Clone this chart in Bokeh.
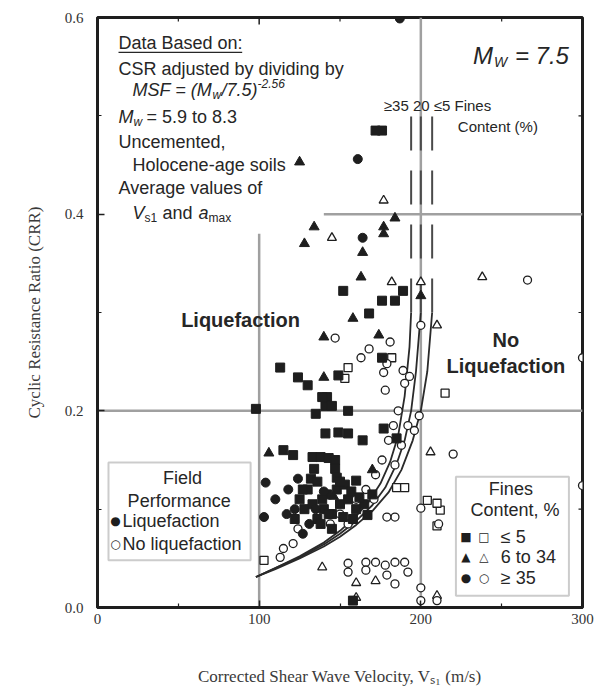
import math
from bokeh.plotting import figure
from bokeh.models import (ColumnDataSource, Label, BoxAnnotation,
                          FixedTicker, Range1d, PrintfTickFormatter)
from bokeh.embed import file_html
from bokeh.resources import INLINE

# ---------------- data ----------------
x_ticks = [0, 100, 200, 300]
x_minor = [50, 150, 250]
y_ticks = [0.0, 0.2, 0.4, 0.6]
y_minor = [0.1, 0.3, 0.5]

# Liquefaction, fines <= 5 % (filled squares)
liq_fc5_x = [172, 176, 98, 152, 189, 176, 184, 168, 176, 113, 124, 130, 149, 142, 135, 141, 145, 155,
             139, 141, 149, 155, 164, 177, 185, 115, 121, 133, 138, 143, 147, 134, 132, 147, 148, 160,
             167, 158, 125, 130, 136, 140, 145, 150, 155, 160, 142, 148, 153, 138, 145, 158, 165, 170, 128,
             122, 127, 133, 139, 152, 157, 162, 136, 143, 150]
liq_fc5_y = [0.485, 0.485, 0.202, 0.322, 0.322, 0.312, 0.312, 0.299, 0.254, 0.244, 0.234, 0.226, 0.236,
             0.214, 0.197, 0.205, 0.205, 0.200, 0.214, 0.177, 0.178, 0.177, 0.170, 0.182, 0.172, 0.160,
             0.155, 0.153, 0.153, 0.152, 0.150, 0.141, 0.131, 0.141, 0.132, 0.129, 0.094, 0.007, 0.110,
             0.120, 0.090, 0.100, 0.095, 0.105, 0.110, 0.100, 0.115, 0.120, 0.125, 0.085, 0.080, 0.090,
             0.105, 0.115, 0.100, 0.090, 0.120, 0.105, 0.110, 0.092, 0.118, 0.112, 0.128, 0.095, 0.128]

# Liquefaction, fines 6 to 34 % (filled triangles)
liq_fc20_x = [125, 184, 177, 177, 134, 128, 164, 163, 200, 158, 174, 140, 140, 106, 146, 170]
liq_fc20_y = [0.453, 0.396, 0.387, 0.380, 0.387, 0.370, 0.361, 0.336, 0.317, 0.294, 0.277, 0.275,
              0.234, 0.157, 0.113, 0.140]

# Liquefaction, fines >= 35 % (filled circles)
liq_fc35_x = [187, 161, 164, 104, 124, 103, 110, 117, 122, 135, 127, 118, 131, 140]
liq_fc35_y = [0.599, 0.456, 0.376, 0.127, 0.131, 0.092, 0.110, 0.095, 0.100, 0.100, 0.075, 0.120,
              0.085, 0.118]

# No liquefaction, fines <= 5 % (open squares)
noliq_fc5_x = [215, 185, 190, 103, 212, 210, 204, 210, 155, 153, 182]
noliq_fc5_y = [0.218, 0.122, 0.122, 0.048, 0.099, 0.083, 0.109, 0.106, 0.244, 0.233, 0.254]

# No liquefaction, fines 6 to 34 % (open triangles)
noliq_fc20_x = [177, 145, 182, 200, 210, 238, 206, 139, 172, 160, 160, 210]
noliq_fc20_y = [0.414, 0.376, 0.331, 0.331, 0.287, 0.336, 0.158, 0.041, 0.027, 0.025, 0.010, 0.012]

# No liquefaction, fines >= 35 % (open circles)
noliq_fc35_x = [147, 200, 266, 300, 300, 220, 200, 168, 163, 179, 177, 189, 190, 178, 184, 179, 211,
                115, 113, 121, 124, 155, 155, 166, 166, 172, 178, 184, 190, 192, 179, 184, 200, 210,
                200, 186, 183, 192, 196, 180, 188, 176, 184, 172, 166, 160, 171, 150, 144, 155, 181,
                193, 199]
noliq_fc35_y = [0.274, 0.287, 0.333, 0.254, 0.124, 0.156, 0.101, 0.263, 0.254, 0.248, 0.239, 0.241,
                0.228, 0.221, 0.092, 0.092, 0.085, 0.060, 0.051, 0.065, 0.080, 0.045, 0.036, 0.046,
                0.038, 0.046, 0.043, 0.046, 0.046, 0.036, 0.033, 0.024, 0.007, 0.007, 0.020, 0.200,
                0.185, 0.185, 0.180, 0.170, 0.165, 0.150, 0.145, 0.135, 0.120, 0.110, 0.110, 0.095,
                0.085, 0.085, 0.270, 0.235, 0.195]

# CRR boundary curves
curve_fc35_x = [98, 110, 125, 140, 150, 160, 168, 175, 181, 186, 190, 193, 194]
curve_fc35_y = [0.031, 0.040, 0.052, 0.066, 0.078, 0.093, 0.108, 0.126, 0.148, 0.175, 0.215, 0.265, 0.30]
curve_fc20_x = [98, 110, 125, 140, 150, 160, 170, 178, 185, 190, 194, 197, 199, 200]
curve_fc20_y = [0.031, 0.040, 0.051, 0.064, 0.075, 0.088, 0.104, 0.122, 0.146, 0.170, 0.200, 0.240, 0.280, 0.30]
curve_fc5_x = [98, 110, 125, 140, 150, 160, 170, 180, 188, 195, 200, 204, 206, 207]
curve_fc5_y = [0.031, 0.039, 0.050, 0.062, 0.072, 0.084, 0.098, 0.117, 0.140, 0.170, 0.200, 0.240, 0.280, 0.30]
# dashed upper extensions (limiting Vs1*)
asym_x = [194, 200, 207]
asym_y0 = [0.30, 0.30, 0.30]
asym_y1 = [0.50, 0.50, 0.50]

# partial grid lines of the original
grid_x0 = [100, 200, 0, 140]
grid_x1 = [100, 200, 300, 300]
grid_y0 = [0.0, 0.0, 0.2, 0.4]
grid_y1 = [0.38, 0.6, 0.2, 0.4]

# ---------------- figure ----------------
SANS = "Liberation Sans"
SERIF = "Liberation Serif"
INK = "#1e1e1e"

x_lo, x_hi = x_ticks[0], x_ticks[-1]
y_lo, y_hi = y_ticks[0], y_ticks[-1]

p = figure(width=603, height=691, x_range=Range1d(x_lo, x_hi), y_range=Range1d(y_lo, y_hi),
           output_backend="svg", toolbar_location=None,
           min_border_left=97, min_border_right=21, min_border_top=17, min_border_bottom=84)
p.xgrid.visible = False
p.ygrid.visible = False
p.outline_line_color = INK
p.outline_line_width = 3
p.background_fill_color = "white"
p.border_fill_color = "white"

def style_axis(ax, ticks, minor, fmt):
    ax.ticker = FixedTicker(ticks=ticks, minor_ticks=minor)
    ax.axis_line_width = 3
    ax.axis_line_color = INK
    ax.major_tick_in = 7
    ax.major_tick_out = 0
    ax.minor_tick_in = 4
    ax.minor_tick_out = 0
    ax.major_tick_line_width = 1.5
    ax.minor_tick_line_width = 1.2
    ax.major_tick_line_color = INK
    ax.minor_tick_line_color = INK
    ax.formatter = PrintfTickFormatter(format=fmt)
    ax.major_label_text_font = SERIF
    ax.major_label_text_font_size = "15px"
    ax.major_label_text_color = "#333333"

xa = p.xaxis[0]
ya = p.yaxis[0]
style_axis(xa, x_ticks, x_minor, "%d")
style_axis(ya, y_ticks, y_minor, "%.1f")
xa.major_label_standoff = 6
ya.major_label_standoff = 14
xa.axis_label = "Corrected Shear Wave Velocity, Vₛ₁ (m/s)"
ya.axis_label = "Cyclic Resistance Ratio (CRR)"
for ax in (xa, ya):
    ax.axis_label_text_font = SERIF
    ax.axis_label_text_font_style = "normal"
    ax.axis_label_text_font_size = "17px"
    ax.axis_label_text_color = "#3a3a3a"
xa.axis_label_standoff = 40
ya.axis_label_standoff = 18

# mirrored inward ticks on the top and right frame edges (clipped to the frame)
p.scatter(x=x_ticks, y=[y_hi] * len(x_ticks), marker="dash", angle=math.pi / 2, size=14,
          line_color=INK, line_width=1.5)
p.scatter(x=x_minor, y=[y_hi] * len(x_minor), marker="dash", angle=math.pi / 2, size=8,
          line_color=INK, line_width=1.2)
p.scatter(x=[x_hi] * len(y_ticks), y=y_ticks, marker="dash", size=14, line_color=INK, line_width=1.5)
p.scatter(x=[x_hi] * len(y_minor), y=y_minor, marker="dash", size=8, line_color=INK, line_width=1.2)

# grid lines
p.segment(x0=grid_x0, y0=grid_y0, x1=grid_x1, y1=grid_y1, line_color="#a0a0a0", line_width=2.5)

# boundary curves
for cx, cy in ((curve_fc35_x, curve_fc35_y), (curve_fc20_x, curve_fc20_y), (curve_fc5_x, curve_fc5_y)):
    p.line(cx, cy, line_color="#2a2a2a", line_width=1.8)
p.segment(x0=asym_x, y0=asym_y0, x1=asym_x, y1=asym_y1, line_color="#4a4a4a",
          line_width=2, line_dash="34 20")

# data points
def pts(xs, ys, marker, filled, size):
    src = ColumnDataSource(dict(x=xs, y=ys))
    p.scatter("x", "y", source=src, marker=marker, size=size,
              fill_color=INK if filled else "white", line_color=INK,
              line_width=1.0 if filled else 1.3)

pts(noliq_fc5_x, noliq_fc5_y, "square", False, 8)
pts(noliq_fc20_x, noliq_fc20_y, "triangle", False, 9)
pts(noliq_fc35_x, noliq_fc35_y, "circle", False, 8)
pts(liq_fc5_x, liq_fc5_y, "square", True, 9)
pts(liq_fc20_x, liq_fc20_y, "triangle", True, 10)
pts(liq_fc35_x, liq_fc35_y, "circle", True, 9)

# ---------------- annotations ----------------
def lab(x, y, text, size=18, style="normal", xo=0, yo=0, align="left", font=SANS, color="#262626"):
    p.add_layout(Label(x=x, y=y, text=text, x_offset=xo, y_offset=yo, text_font=font,
                       text_font_size=f"{size}px", text_font_style=style, text_align=align,
                       text_baseline="middle", text_color=color))

# top-left note block
lab(13.0, 0.5738, "Data Based on:")
lab(13.0, 0.5473, "CSR adjusted by dividing by")
lab(21.7, 0.5260, "MSF = (M", style="italic")
lab(21.7, 0.5260, "w", size=12, style="italic", xo=80, yo=-5)
lab(21.7, 0.5260, "/7.5)", style="italic", xo=89)
lab(21.7, 0.5260, "-2.56", size=12, style="italic", xo=125, yo=7)
lab(13.0, 0.4985, "M", style="italic")
lab(13.0, 0.4985, "w", size=12, style="italic", xo=15, yo=-5)
lab(13.0, 0.4985, "= 5.9 to 8.3", xo=28)
lab(13.0, 0.4730, "Uncemented,")
lab(21.7, 0.4496, "Holocene-age soils")
lab(13.0, 0.4262, "Average values of")
lab(21.7, 0.4008, "V", style="italic")
lab(21.7, 0.4008, "s1", size=12, xo=12, yo=-5)
lab(21.7, 0.4008, "and", xo=30)
lab(21.7, 0.4008, "a", style="italic", xo=66)
lab(21.7, 0.4008, "max", size=12, xo=76, yo=-5)
p.segment(x0=[13.0], y0=[0.5646], x1=[89.5], y1=[0.5646], line_color="#262626", line_width=1.3)

# magnitude
lab(232.2, 0.5615, "M", size=24, style="italic")
lab(232.2, 0.5615, "W", size=14, style="italic", xo=21, yo=-7)
lab(232.2, 0.5615, "= 7.5", size=24, style="italic", xo=42)

# curve labels
lab(177.1, 0.511, "≥35 20 ≤5 Fines", size=15)
lab(222.9, 0.489, "Content (%)", size=15)

# regions
lab(88.5, 0.292, "Liquefaction", size=20, style="bold", align="center")
lab(252.6, 0.272, "No", size=20, style="bold", align="center")
lab(252.6, 0.246, "Liquefaction", size=20, style="bold", align="center")

# Field performance box
p.add_layout(BoxAnnotation(left=6.8, right=94.7, top=0.1475, bottom=0.048, fill_color="white",
                           fill_alpha=1.0, line_color="#555555", line_width=2))
lab(52.6, 0.132, "Field", align="center")
lab(50.5, 0.1088, "Performance", align="center")
p.segment(x0=[18.6], y0=[0.1007], x1=[82.4], y1=[0.1007], line_color="#262626", line_width=1.3)
lab(11.1, 0.0875, "●", size=12, align="center", font="DejaVu Sans", color="#1e1e1e")
lab(15.5, 0.0875, "Liquefaction")
lab(11.1, 0.0650, "○", size=12, align="center", font="DejaVu Sans", color="#1e1e1e")
lab(15.5, 0.0650, "No liquefaction")

# Fines content box
p.add_layout(BoxAnnotation(left=221.7, right=291.6, top=0.133, bottom=0.012, fill_color="white",
                           fill_alpha=1.0, line_color="#555555", line_width=2))
lab(255.7, 0.121, "Fines", align="center")
lab(258.2, 0.099, "Content, %", align="center")
p.segment(x0=[229.7], y0=[0.0905], x1=[286.7], y1=[0.0905], line_color="#262626", line_width=1.3)
rows = [("■", "□", "≤ 5"), ("▲", "△", "6 to 34"), ("●", "○", "≥ 35")]
row_y = [0.0712, 0.0509, 0.0305]
for (f, o, t), yy in zip(rows, row_y):
    lab(227.9, yy, f, size=12, align="center", font="DejaVu Sans", color="#1e1e1e")
    lab(239.0, yy, o, size=12, align="center", font="DejaVu Sans", color="#1e1e1e")
    lab(249.5, yy, t)

open("out.html", "w").write(file_html(p, INLINE))
